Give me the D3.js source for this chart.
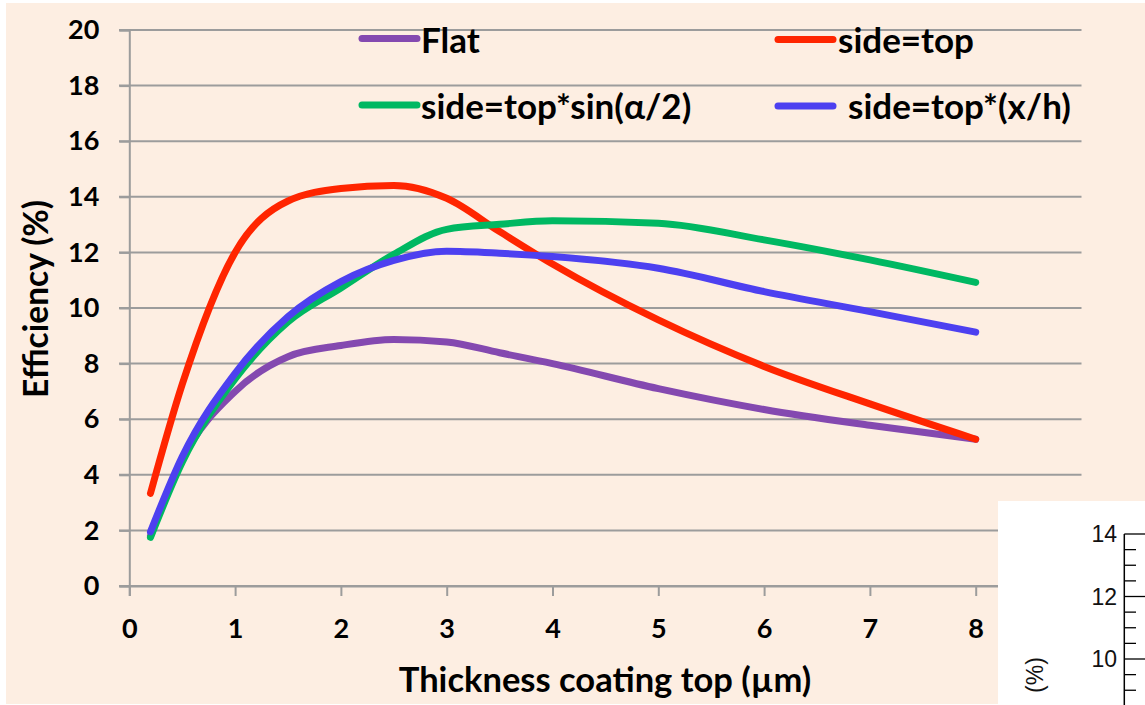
<!DOCTYPE html>
<html><head><meta charset="utf-8">
<script src="https://cdn.jsdelivr.net/npm/d3@7"></script>
<style>
html,body{margin:0;padding:0;background:#fff;}
svg{display:block;}
</style></head>
<body>
<svg id="chart" width="1145" height="705"></svg>
<script>
// ---- data ----
const thickness = [0.2, 0.5, 1, 1.5, 2, 2.5, 3, 3.5, 4, 5, 6, 7, 8];
const flat      = [1.8, 4.55, 7.0, 8.25, 8.65, 8.87, 8.78, 8.39, 8.0, 7.1, 6.35, 5.78, 5.28];
const sideTop   = [3.33, 7.25, 12.0, 13.85, 14.3, 14.41, 13.95, 12.75, 11.58, 9.57, 7.9, 6.55, 5.28];
const sinHalf   = [1.75, 4.45, 7.45, 9.5, 10.72, 11.93, 12.83, 13.01, 13.14, 13.05, 12.45, 11.73, 10.92];
const xOverH    = [1.95, 4.65, 7.65, 9.69, 10.95, 11.71, 12.04, 11.97, 11.85, 11.43, 10.59, 9.87, 9.13];
const seriesNames = ["Flat", "side=top", "side=top*sin(α/2)", "side=top*(x/h)"];
const yTicks = [0, 2, 4, 6, 8, 10, 12, 14, 16, 18, 20];
const xTicks = [0, 1, 2, 3, 4, 5, 6, 7, 8, 9];
const insetTicks = [10, 12, 14];
const xTitle = "Thickness coating top (µm)";
const yTitle = "Efficiency (%)";

const series = [
  {name: seriesNames[0], values: flat,    color: "#8449b0"},
  {name: seriesNames[1], values: sideTop, color: "#ff2500"},
  {name: seriesNames[2], values: sinHalf, color: "#00b862"},
  {name: seriesNames[3], values: xOverH,  color: "#4d40f0"}
];

const svg = d3.select("#chart");
const FONT = "Lato, 'Open Sans', sans-serif";

svg.append("rect").attr("x", 6).attr("y", 3).attr("width", 1139).attr("height", 701).attr("fill", "#fdeee2");

const x = d3.scaleLinear().domain([0, 9]).range([129.3, 1081.5]);
const y = d3.scaleLinear().domain([0, 20]).range([586, 30]);

// gridlines
svg.append("g").selectAll("line").data(yTicks).join("line")
  .attr("x1", 119).attr("x2", x(9))
  .attr("y1", d => y(d)).attr("y2", d => y(d))
  .attr("stroke", "#9c9c9c").attr("stroke-width", 2);

// y axis
const gy = svg.append("g").attr("transform", `translate(${x(0)},0)`)
  .call(d3.axisLeft(y).tickValues(yTicks).tickSize(10).tickPadding(20).tickFormat(d3.format("d")));
gy.select(".domain").attr("stroke", "#9c9c9c").attr("stroke-width", 2);
gy.selectAll(".tick line").attr("stroke", "#9c9c9c").attr("stroke-width", 2);
gy.selectAll("text").attr("font-family", FONT).attr("font-weight", 700).attr("font-size", 27).attr("fill", "#000");

// x axis
const gx = svg.append("g").attr("transform", `translate(0,${y(0)})`)
  .call(d3.axisBottom(x).tickValues(xTicks).tickSize(10).tickPadding(23).tickFormat(d3.format("d")));
gx.select(".domain").attr("stroke", "#9c9c9c").attr("stroke-width", 2);
gx.selectAll(".tick line").attr("stroke", "#9c9c9c").attr("stroke-width", 2);
gx.selectAll("text").attr("font-family", FONT).attr("font-weight", 700).attr("font-size", 27).attr("fill", "#000");

// titles
svg.append("text").attr("x", 605).attr("y", 692).attr("text-anchor", "middle")
  .attr("font-family", FONT).attr("font-weight", 700).attr("font-size", 34.5).text(xTitle);
svg.append("text").attr("transform", "translate(48,299) rotate(-90)").attr("text-anchor", "middle")
  .attr("font-family", FONT).attr("font-weight", 700).attr("font-size", 33.5).text(yTitle);

// lines
const line = d3.line().x((d, i) => x(thickness[i])).y(d => y(d)).curve(d3.curveMonotoneX);
svg.append("g").selectAll("path").data(series).join("path")
  .attr("d", s => line(s.values))
  .attr("fill", "none").attr("stroke", s => s.color).attr("stroke-width", 7)
  .attr("stroke-linecap", "round").attr("stroke-linejoin", "round");

// legend
const legPos = [
  {lx: 362, ly: 38.5, tx: 421, ty: 53},
  {lx: 778, ly: 39.5, tx: 838, ty: 53},
  {lx: 362, ly: 105, tx: 421, ty: 119},
  {lx: 778, ly: 106, tx: 848, ty: 119}
];
const leg = svg.append("g").selectAll("g").data(series).join("g");
leg.append("line")
  .attr("x1", (s, i) => legPos[i].lx).attr("x2", (s, i) => legPos[i].lx + 55)
  .attr("y1", (s, i) => legPos[i].ly).attr("y2", (s, i) => legPos[i].ly)
  .attr("stroke", s => s.color).attr("stroke-width", 7).attr("stroke-linecap", "round");
leg.append("text")
  .attr("x", (s, i) => legPos[i].tx).attr("y", (s, i) => legPos[i].ty)
  .attr("font-family", FONT).attr("font-weight", 700).attr("font-size", 35).text(s => s.name);

// inset (fragment of a neighbouring chart)
const inset = svg.append("g");
inset.append("rect").attr("x", 998).attr("y", 501).attr("width", 147).attr("height", 204).attr("fill", "#fff");
const yi = d3.scaleLinear().domain([14, 8]).range([534, 721.5]);
const minor = d3.range(9, 14.01, 0.5).filter(v => !insetTicks.includes(v));
inset.append("line").attr("x1", 1124.3).attr("x2", 1124.3).attr("y1", yi(14)).attr("y2", 705).attr("stroke", "#000").attr("stroke-width", 1.5);
inset.selectAll(".maj").data(insetTicks).join("line")
  .attr("x1", 1124.3).attr("x2", 1145).attr("y1", d => yi(d)).attr("y2", d => yi(d)).attr("stroke", "#000").attr("stroke-width", 1.3);
inset.selectAll(".min").data(minor).join("line")
  .attr("x1", 1124.3).attr("x2", 1136).attr("y1", d => yi(d)).attr("y2", d => yi(d)).attr("stroke", "#000").attr("stroke-width", 1.3);
inset.selectAll("text.il").data(insetTicks).join("text")
  .attr("x", 1117).attr("y", d => yi(d)).attr("dy", "0.36em").attr("text-anchor", "end")
  .attr("font-family", "'Liberation Sans', Arial, sans-serif").attr("font-size", 23).attr("fill", "#111").text(d => d);
inset.append("text").attr("transform", "translate(1043,675) rotate(-90)").attr("text-anchor", "middle")
  .attr("font-family", "'Liberation Sans', Arial, sans-serif").attr("font-size", 23).attr("fill", "#111").text("(%)");
</script>
</body></html>
